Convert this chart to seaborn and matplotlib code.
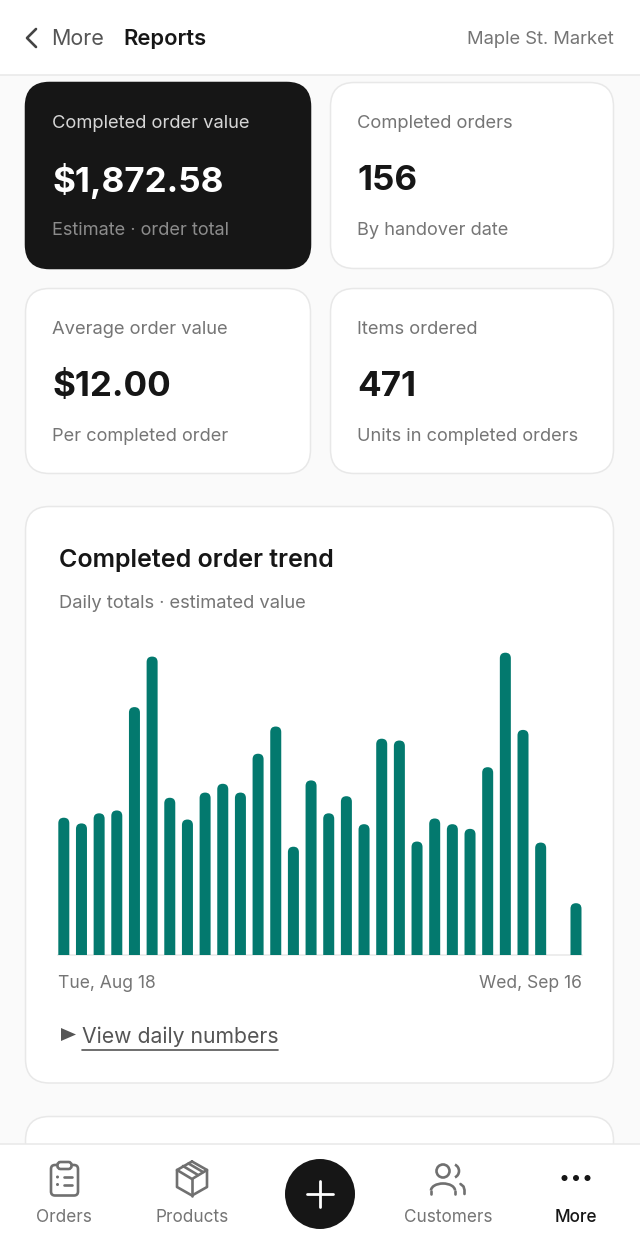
import matplotlib
matplotlib.use("Agg")
import matplotlib.pyplot as plt
import pandas as pd
import seaborn as sns
from matplotlib.patches import Circle, FancyBboxPatch, Polygon, Rectangle, Arc

# Daily completed order value, Aug 18 to Sep 16
days = pd.date_range("2026-08-18", "2026-09-16").strftime("%m-%d").tolist()
daily_value = [53.0, 50.8, 54.7, 55.8, 95.7, 115.2, 60.7, 52.3, 62.7, 66.1,
               62.7, 77.7, 88.2, 41.8, 67.4, 54.7, 61.3, 50.5, 83.5, 82.8,
               43.8, 52.7, 50.5, 48.7, 72.5, 116.7, 86.9, 43.4, 0.0, 20.0]
axis_labels = ["Tue, Aug 18", "Wed, Sep 16"]

card_titles = ["Completed order value", "Completed orders", "Average order value", "Items ordered"]
card_values = ["$1,872.58", "156", "$12.00", "471"]
card_notes = ["Estimate · order total", "By handover date", "Per completed order", "Units in completed orders"]
nav_labels = ["Orders", "Products", "Customers", "More"]

W, H = 640, 1245
FONT = "Inter"
GREEN = "#03796e"
DARK = "#161616"
GREY = "#757575"
ICON = "#707070"
EDGE = "#e8e8e8"

sns.set_theme(style="white")
plt.rcParams["font.family"] = [FONT, "DejaVu Sans"]

fig = plt.figure(figsize=(W / 100, H / 100), dpi=100, facecolor="#fafafa")
ui = fig.add_axes([0, 0, 1, 1])
ui.set_xlim(0, W)
ui.set_ylim(H, 0)
ui.axis("off")


def px(size):
    return size * 72 / 100


def label(x, y, s, size, color=GREY, weight="normal", ha="left", z=5):
    return ui.text(x, y, s, fontsize=px(size), color=color, fontweight=weight,
                   ha=ha, va="center", zorder=z)


def card(x0, y0, x1, y1, face="white", edge=EDGE, r=24, z=1):
    ui.add_patch(FancyBboxPatch((x0, y0), x1 - x0, y1 - y0,
                                boxstyle=f"round,pad=0,rounding_size={r}",
                                fc=face, ec=edge, lw=1.1, zorder=z))


def stroke(xs, ys, color=ICON, lw=1.9, z=6):
    ui.plot(xs, ys, color=color, lw=lw, solid_capstyle="round", solid_joinstyle="round", zorder=z)


# header
ui.add_patch(Rectangle((0, 0), W, 75, fc="white", ec="none", zorder=3))
ui.plot([0, W], [75, 75], color=EDGE, lw=1.1, zorder=4)
stroke([36, 27, 36], [29, 38, 47], color="#444444", lw=1.9)
label(51, 39, "More", 21.5, color="#555555")
label(123, 39, "Reports", 22, color=DARK, weight="semibold")
label(614, 39, "Maple St. Market", 18.4, ha="right")

# summary cards
slots = [(25.5, 82.5, 310.5, 268.5), (330.5, 82.5, 613.5, 268.5),
         (25.5, 288.5, 310.5, 473.5), (330.5, 288.5, 613.5, 473.5)]
for i, (x0, y0, x1, y1) in enumerate(slots):
    dark = i == 0
    card(x0, y0, x1, y1, face=DARK if dark else "white", edge=DARK if dark else EDGE)
    tx = x0 + 26.5
    label(tx, y0 + 41.5, card_titles[i], 18.4, color="#d6d6d6" if dark else GREY)
    label(tx, y0 + 98.5, card_values[i], 35, color="white" if dark else DARK, weight="bold")
    label(tx, y0 + 148, card_notes[i], 18.2, color="#8c8c8c" if dark else GREY)

# trend card
card(25.5, 506.5, 613.5, 1083)
label(59, 560, "Completed order trend", 25, color=DARK, weight="semibold")
label(59, 604, "Daily totals · estimated value", 18.4)

# bars
bar_left, bar_right, bar_top, bar_base = 58.3, 581.5, 640, 955
ax = fig.add_axes([bar_left / W, 1 - bar_base / H, (bar_right - bar_left) / W, (bar_base - bar_top) / H])
ax.patch.set_alpha(0)
trend = pd.DataFrame({"day": days, "value": daily_value})
sns.barplot(data=trend, x="day", y="value", color=GREEN, saturation=1, width=0.623, ax=ax)
xmin, xmax = -0.312, 29.312
ymax = 121.6
ax.set_xlim(xmin, xmax)
ax.set_ylim(0, ymax)

# swap the square bars for ones with rounded tops, same geometry
x_unit = (bar_right - bar_left) / (xmax - xmin)
y_unit = (bar_base - bar_top) / ymax
radius = 5.5 / x_unit
for p in list(ax.patches):
    p.set_visible(False)
    if p.get_height() <= 0:
        continue
    ax.add_patch(FancyBboxPatch((p.get_x(), -10), p.get_width(), p.get_height() + 10,
                                boxstyle=f"round,pad=0,rounding_size={radius}",
                                mutation_aspect=x_unit / y_unit,
                                fc=GREEN, ec="none", zorder=3))

ax.set_xlabel("")
ax.set_ylabel("")
ax.set_yticks([])
ax.set_xticks([xmin, xmax], axis_labels, fontsize=px(17.5), color=GREY)
ax.tick_params(axis="x", length=0, pad=14.5)
ticks = ax.get_xticklabels()
ticks[0].set_ha("left")
ticks[1].set_ha("right")
sns.despine(ax=ax, left=True, right=True, top=True)
ax.spines["bottom"].set_color(EDGE)
ax.spines["bottom"].set_linewidth(1.1)

# disclosure link
ui.add_patch(Polygon([(61, 1028), (61, 1041), (76, 1034.5)], fc="#555555", ec="none", zorder=6))
label(82, 1037, "View daily numbers", 21.2, color="#555555")
ui.plot([82, 278], [1049.5, 1049.5], color="#555555", lw=1.2, zorder=6)

# next card peeking above the nav bar
card(25.5, 1116.5, 613.5, 1200, z=1)

# bottom nav
ui.add_patch(Rectangle((0, 1143.5), W, H - 1143.5, fc="white", ec="none", zorder=3))
ui.plot([0, W], [1143.5, 1143.5], color=EDGE, lw=1.1, zorder=4)
for x, s in zip([64, 192, 448, 576], nav_labels):
    label(x, 1218, s, 17.2, color=DARK if s == "More" else GREY, ha="center",
          weight="medium" if s == "More" else "normal")

# orders icon
ui.add_patch(FancyBboxPatch((51, 1165), 27, 30.5, boxstyle="round,pad=0,rounding_size=4",
                            fc="none", ec=ICON, lw=1.9, zorder=6))
ui.add_patch(FancyBboxPatch((57.5, 1162), 14, 7, boxstyle="round,pad=0,rounding_size=3",
                            fc="white", ec=ICON, lw=1.9, zorder=7))
for y in [1177, 1184.5]:
    ui.add_patch(Circle((57.5, y), 1.5, fc=ICON, ec="none", zorder=6))
    stroke([64, 72], [y, y])

# products icon
stroke([192, 207, 207, 192, 177, 177, 192], [1161.5, 1170, 1187, 1195.5, 1187, 1170, 1161.5])
stroke([177, 192, 207], [1170, 1179, 1170])
stroke([192, 192], [1179, 1195.5])
stroke([183, 198], [1166, 1175])
stroke([188.5, 203], [1163.5, 1172])

# customers icon
ui.add_patch(Circle((443, 1171), 6.5, fc="none", ec=ICON, lw=1.9, zorder=6))
ui.add_patch(Arc((452, 1171), 14, 14, theta1=-65, theta2=65, ec=ICON, lw=1.9, zorder=6))
ui.add_patch(Arc((443, 1190.5), 24, 14, theta1=180, theta2=360, ec=ICON, lw=1.9, zorder=6))
stroke([431, 431], [1190.5, 1194])
stroke([455, 455], [1190.5, 1194])
stroke([460.5, 463.5, 464.5, 464.5], [1184, 1186.5, 1190, 1194])

# more icon
for x in [564.5, 576, 587.5]:
    ui.add_patch(Circle((x, 1178), 3, fc=DARK, ec="none", zorder=6))

# add button
ui.add_patch(Circle((320, 1194), 35, fc=DARK, ec="none", zorder=6))
stroke([307, 333], [1194, 1194], color="white", lw=2.0, z=7)
stroke([320, 320], [1181, 1207], color="white", lw=2.0, z=7)

fig.savefig("out.png", dpi=100, facecolor=fig.get_facecolor())
